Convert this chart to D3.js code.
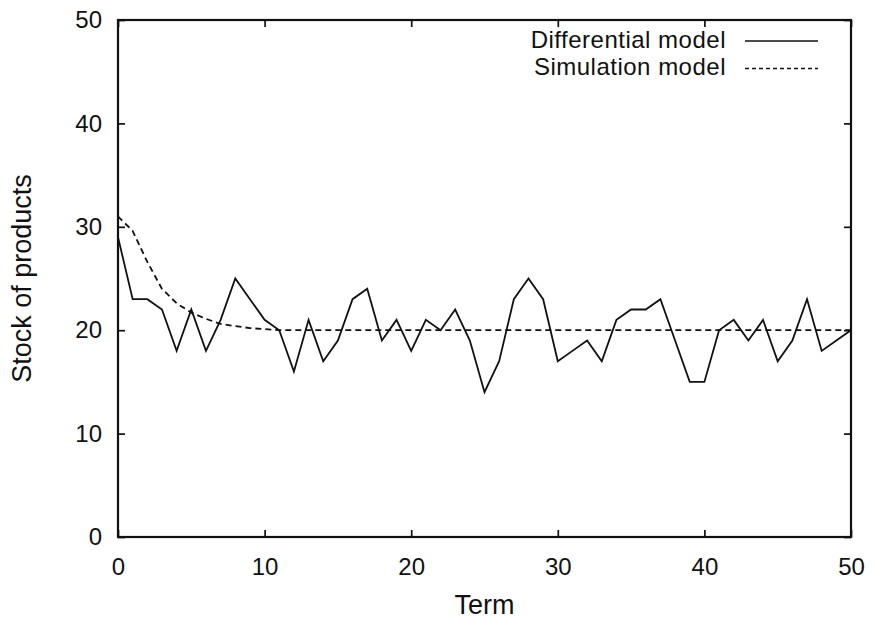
<!DOCTYPE html>
<html>
<head>
<meta charset="utf-8">
<script src="https://d3js.org/d3.v7.min.js"></script>
<style>
  body { margin: 0; background: #fff; }
  svg text { font-family: "Liberation Sans", Arial, sans-serif; fill: #111; }
</style>
</head>
<body>
<svg id="chart" width="876" height="623"></svg>
<script>

// data
var terms = d3.range(0, 51);
var differential = [29, 23, 23, 22, 18, 22, 18, 21, 25, 23,
                    21, 20, 16, 21, 17, 19, 23, 24, 19, 21,
                    18, 21, 20, 22, 19, 14, 17, 23, 25, 23,
                    17, 18, 19, 17, 21, 22, 22, 23, 19, 15,
                    15, 20, 21, 19, 21, 17, 19, 23, 18, 19, 20];
var simulation = [31, 29.6, 26.6, 24.0, 22.6, 21.7, 21.1, 20.6, 20.4, 20.2,
                  20.1, 20, 20, 20, 20, 20, 20, 20, 20, 20,
                  20, 20, 20, 20, 20, 20, 20, 20, 20, 20,
                  20, 20, 20, 20, 20, 20, 20, 20, 20, 20,
                  20, 20, 20, 20, 20, 20, 20, 20, 20, 20, 20];
var xTicks = [0, 10, 20, 30, 40, 50];
var yTicks = [0, 10, 20, 30, 40, 50];
var seriesNames = ["Differential model", "Simulation model"];

var svg = d3.select("#chart");
var margin = {top: 20, right: 25, bottom: 86, left: 118};
var width = 876 - margin.left - margin.right,
    height = 623 - margin.top - margin.bottom;

var g = svg.append("g").attr("transform", "translate(" + margin.left + "," + margin.top + ")");

var x = d3.scaleLinear().domain([0, 50]).range([0, width]);
var y = d3.scaleLinear().domain([0, 50]).range([height, 0]);

// gnuplot style: ticks inside, mirrored on all sides
function styleAxis(sel) {
  sel.select(".domain").remove();
  sel.selectAll(".tick line").attr("stroke", "#111").attr("stroke-width", 1.7);
  sel.selectAll(".tick text").style("font-size", "24px");
}

g.append("g")
    .attr("transform", "translate(0," + height + ")")
    .call(d3.axisBottom(x).tickValues(xTicks).tickSize(-7).tickPadding(21).tickFormat(d3.format("d")))
    .call(styleAxis);

g.append("g")
    .call(d3.axisTop(x).tickValues(xTicks).tickSize(-7).tickFormat(""))
    .call(styleAxis);

g.append("g")
    .call(d3.axisLeft(y).tickValues(yTicks).tickSize(-7).tickPadding(16).tickFormat(d3.format("d")))
    .call(styleAxis);

g.append("g")
    .attr("transform", "translate(" + width + ",0)")
    .call(d3.axisRight(y).tickValues(yTicks).tickSize(-7).tickFormat(""))
    .call(styleAxis);

g.append("rect")
    .attr("width", width)
    .attr("height", height)
    .attr("fill", "none")
    .attr("stroke", "#111")
    .attr("stroke-width", 2.2);

var line = d3.line()
    .x(function(d, i) { return x(terms[i]); })
    .y(function(d) { return y(d); });

g.append("path")
    .datum(simulation)
    .attr("fill", "none")
    .attr("stroke", "#111")
    .attr("stroke-width", 1.8)
    .attr("stroke-dasharray", "6,4")
    .attr("d", line);

g.append("path")
    .datum(differential)
    .attr("fill", "none")
    .attr("stroke", "#111")
    .attr("stroke-width", 1.8)
    .attr("d", line);

// legend
var legend = svg.append("g");
seriesNames.forEach(function(name, i) {
  var cy = 39 + i * 27.5;
  legend.append("text")
      .attr("x", 726)
      .attr("y", cy + 8.5)
      .attr("text-anchor", "end")
      .style("font-size", "24px")
      .style("letter-spacing", "0.5px")
      .text(name);
  legend.append("line")
      .attr("x1", 745).attr("x2", 818)
      .attr("y1", cy + 2).attr("y2", cy + 2)
      .attr("stroke", "#111")
      .attr("stroke-width", 1.6)
      .attr("stroke-dasharray", i == 1 ? "4,3" : null);
});

// axis titles
svg.append("text")
    .attr("x", margin.left + width / 2)
    .attr("y", 614)
    .attr("text-anchor", "middle")
    .style("font-size", "27px")
    .text("Term");

svg.append("text")
    .attr("transform", "translate(31," + (margin.top + height / 2) + ") rotate(-90)")
    .attr("text-anchor", "middle")
    .style("font-size", "27px")
    .text("Stock of products");

</script>
</body>
</html>
